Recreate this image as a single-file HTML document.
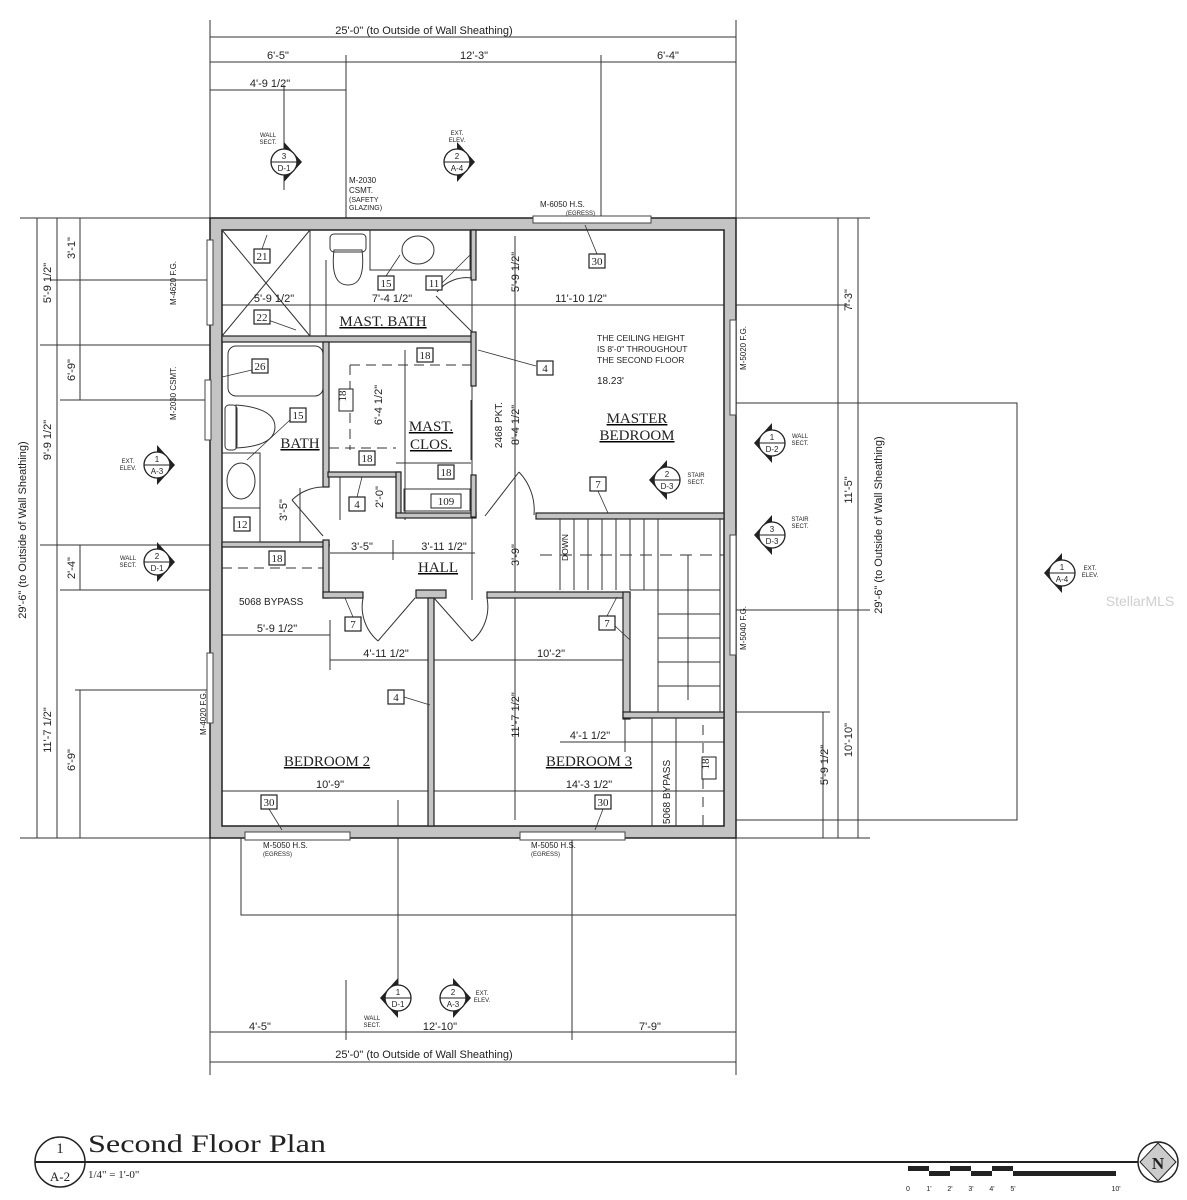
<!DOCTYPE html>
<html><head><meta charset="utf-8"><style>
html,body{margin:0;padding:0;background:#fff}
svg{display:block}
text{font-family:"Liberation Sans",sans-serif;fill:#222}
.s{font-family:"Liberation Serif",serif}
</style></head><body>
<svg width="1187" height="1200" viewBox="0 0 1187 1200" xmlns="http://www.w3.org/2000/svg">
<defs>
<g id="tag"><rect x="-8" y="-7" width="16" height="14" fill="#fff" stroke="#222" stroke-width="1.2"/></g>
<g id="mk"><circle r="13" fill="#fff" stroke="#222" stroke-width="1.3"/><line x1="-13" y1="0" x2="13" y2="0" stroke="#222"/></g>
<path id="tr" d="M0 -20 L18 0 L0 20Z" fill="#222"/>
<path id="tl" d="M0 -20 L-18 0 L0 20Z" fill="#222"/>
</defs>

<text x="1140" y="606" font-size="14" fill="#ccc" style="fill:#cfcfcf" text-anchor="middle">StellarMLS</text>

<g stroke="#333" stroke-width="1" fill="none">
<line x1="210" y1="37" x2="736" y2="37"/>
<line x1="210" y1="62" x2="736" y2="62"/>
<line x1="210" y1="90" x2="346" y2="90"/>
<line x1="210" y1="20" x2="210" y2="218"/>
<line x1="736" y1="20" x2="736" y2="218"/>
<line x1="346" y1="55" x2="346" y2="230"/>
<line x1="601" y1="55" x2="601" y2="220"/>
<line x1="284" y1="85" x2="284" y2="190"/>
<line x1="210" y1="1062" x2="736" y2="1062"/>
<line x1="210" y1="1032" x2="736" y2="1032"/>
<line x1="210" y1="838" x2="210" y2="1075"/>
<line x1="736" y1="838" x2="736" y2="1075"/>
<line x1="346" y1="980" x2="346" y2="1040"/>
<line x1="572" y1="838" x2="572" y2="1040"/>
<line x1="398" y1="800" x2="398" y2="990"/>
<line x1="37" y1="218" x2="37" y2="838"/>
<line x1="57" y1="218" x2="57" y2="838"/>
<line x1="80" y1="218" x2="80" y2="400"/>
<line x1="80" y1="545" x2="80" y2="590"/>
<line x1="80" y1="690" x2="80" y2="838"/>
<line x1="20" y1="218" x2="210" y2="218"/>
<line x1="20" y1="838" x2="210" y2="838"/>
<line x1="50" y1="280" x2="222" y2="280"/>
<line x1="40" y1="345" x2="222" y2="345"/>
<line x1="40" y1="545" x2="330" y2="545"/>
<line x1="60" y1="400" x2="222" y2="400"/>
<line x1="60" y1="590" x2="222" y2="590"/>
<line x1="75" y1="690" x2="222" y2="690"/>
<line x1="858" y1="218" x2="858" y2="838"/>
<line x1="838" y1="218" x2="838" y2="838"/>
<line x1="823" y1="712" x2="823" y2="838"/>
<line x1="736" y1="218" x2="870" y2="218"/>
<line x1="736" y1="838" x2="870" y2="838"/>
<line x1="724" y1="305" x2="850" y2="305"/>
<line x1="724" y1="610" x2="870" y2="610"/>
<line x1="724" y1="712" x2="830" y2="712"/>
<rect x="736" y="403" width="281" height="417"/>
<rect x="241" y="838" width="495" height="77"/>
<line x1="222" y1="305" x2="724" y2="305"/>
<line x1="326" y1="260" x2="326" y2="345"/>
<line x1="472" y1="240" x2="472" y2="600"/>
<line x1="515" y1="236" x2="515" y2="820"/>
<line x1="340" y1="472" x2="340" y2="520"/>
<line x1="300" y1="488" x2="300" y2="545"/>
<line x1="330" y1="553" x2="475" y2="553"/>
<line x1="393" y1="540" x2="393" y2="560"/>
<line x1="222" y1="635" x2="330" y2="635"/>
<line x1="330" y1="620" x2="330" y2="670"/>
<line x1="330" y1="660" x2="630" y2="660"/>
<line x1="222" y1="791" x2="724" y2="791"/>
<line x1="560" y1="742" x2="724" y2="742"/>
<line x1="625" y1="718" x2="625" y2="752"/>
<line x1="405" y1="350" x2="405" y2="520"/>
</g>

<path d="M210 218H736V838H210Z M222 230V826H724V230Z" fill="#c4c4c4" fill-rule="evenodd" stroke="#222" stroke-width="1.5"/>
<g fill="#fff" stroke="#444" stroke-width="1">
<rect x="533" y="216" width="118" height="7"/>
<rect x="245" y="832" width="105" height="8"/>
<rect x="520" y="832" width="105" height="8"/>
<rect x="207" y="240" width="6" height="85"/>
<rect x="205" y="380" width="6" height="60"/>
<rect x="207" y="653" width="6" height="70"/>
<rect x="730" y="320" width="6" height="95"/>
<rect x="730" y="535" width="6" height="120"/>
</g>

<g fill="#c4c4c4" stroke="#222" stroke-width="1.2">
<rect x="222" y="336" width="253" height="6"/>
<rect x="471" y="230" width="5" height="50"/>
<rect x="471" y="332" width="5" height="54"/>
<rect x="323" y="342" width="6" height="145"/>
<rect x="328" y="472" width="72" height="5"/>
<rect x="396" y="472" width="5" height="45"/>
<rect x="396" y="513" width="80" height="5"/>
<rect x="471" y="475" width="5" height="42"/>
<rect x="222" y="542" width="107" height="5"/>
<rect x="323" y="540" width="6" height="58"/>
<rect x="323" y="592" width="40" height="6"/>
<rect x="416" y="590" width="30" height="8"/>
<rect x="487" y="592" width="143" height="6"/>
<rect x="623" y="592" width="7" height="127"/>
<rect x="623" y="712" width="101" height="6"/>
<rect x="536" y="513" width="188" height="6"/>
<rect x="428" y="598" width="6" height="228"/>
</g>
<g stroke="#333" stroke-width="1" fill="none">
<line x1="560" y1="519" x2="560" y2="590"/>
<line x1="574" y1="519" x2="574" y2="590"/>
<line x1="588" y1="519" x2="588" y2="590"/>
<line x1="602" y1="519" x2="602" y2="590"/>
<line x1="616" y1="519" x2="616" y2="590"/>
<line x1="630" y1="519" x2="630" y2="590"/>
<line x1="644" y1="519" x2="644" y2="590"/>
<line x1="658" y1="519" x2="658" y2="712"/>
<line x1="720" y1="519" x2="720" y2="712"/>
<line x1="630" y1="590" x2="720" y2="590"/>
<line x1="658" y1="614" x2="720" y2="614"/>
<line x1="658" y1="638" x2="720" y2="638"/>
<line x1="658" y1="662" x2="720" y2="662"/>
<line x1="658" y1="686" x2="720" y2="686"/>
<line x1="540" y1="555" x2="724" y2="555" stroke-dasharray="12,8"/>
<line x1="688" y1="555" x2="688" y2="700"/>
<line x1="652" y1="718" x2="652" y2="826"/>
<line x1="676" y1="718" x2="676" y2="826"/>
<line x1="703" y1="725" x2="703" y2="826" stroke-dasharray="10,8"/>
<line x1="436" y1="296" x2="472" y2="332"/>
<path d="M437 292 A38 38 0 0 1 472 278"/>
<line x1="485" y1="516" x2="519" y2="472"/>
<path d="M519 472 A55 55 0 0 1 534 515"/>
<line x1="292" y1="500" x2="323" y2="536"/>
<path d="M292 500 A45 45 0 0 1 323 487"/>
<line x1="415" y1="598" x2="378" y2="641"/>
<path d="M378 641 A45 45 0 0 1 363 598"/>
<line x1="434" y1="598" x2="472" y2="641"/>
<path d="M472 641 A45 45 0 0 0 487 598"/>
<line x1="222" y1="230" x2="310" y2="336"/>
<line x1="310" y1="230" x2="222" y2="336"/>
<line x1="310" y1="230" x2="310" y2="336"/>
<line x1="222" y1="568" x2="323" y2="568" stroke-dasharray="10,6"/>
<line x1="350" y1="365" x2="471" y2="365" stroke-dasharray="10,6"/>
<line x1="350" y1="365" x2="350" y2="450" stroke-dasharray="10,6"/>
<line x1="329" y1="448" x2="396" y2="448" stroke-dasharray="10,6"/>
<line x1="396" y1="463" x2="471" y2="463"/>
<rect x="404" y="489" width="66" height="22"/>
<line x1="471" y1="400" x2="471" y2="460"/>
<rect x="330" y="234" width="36" height="18" rx="4"/>
<path d="M334 250 Q330 285 348 285 Q366 285 362 250 Z"/>
<rect x="370" y="230" width="100" height="40"/>
<ellipse cx="418" cy="250" rx="16" ry="14"/>
<rect x="228" y="346" width="95" height="50" rx="8"/>
<rect x="225" y="405" width="12" height="45" rx="4"/>
<path d="M236 405 Q275 408 275 427 Q275 446 236 448 Z"/>
<rect x="222" y="453" width="38" height="55"/>
<ellipse cx="241" cy="481" rx="14" ry="18"/>
<rect x="222" y="508" width="38" height="34"/>
</g>
<g stroke="#333" stroke-width="0.8">
<line x1="262" y1="249" x2="267" y2="235"/>
<line x1="268" y1="320" x2="296" y2="330"/>
<line x1="386" y1="276" x2="400" y2="255"/>
<line x1="442" y1="283" x2="470" y2="255"/>
<line x1="597" y1="254" x2="585" y2="225"/>
<line x1="252" y1="370" x2="222" y2="377"/>
<line x1="290" y1="420" x2="247" y2="460"/>
<line x1="536" y1="366" x2="478" y2="350"/>
<line x1="598" y1="491" x2="608" y2="513"/>
<line x1="357" y1="497" x2="362" y2="477"/>
<line x1="353" y1="617" x2="345" y2="598"/>
<line x1="607" y1="616" x2="617" y2="597"/>
<line x1="614" y1="625" x2="630" y2="640"/>
<line x1="404" y1="697" x2="430" y2="705"/>
<line x1="269" y1="809" x2="282" y2="830"/>
<line x1="603" y1="809" x2="595" y2="830"/>
</g>

<g font-size="11" text-anchor="middle" class="s">
<use href="#tag" x="262" y="256"/><text x="262" y="260" class="s">21</text>
<use href="#tag" x="262" y="317"/><text x="262" y="321" class="s">22</text>
<use href="#tag" x="386" y="283"/><text x="386" y="287" class="s">15</text>
<use href="#tag" x="434" y="283"/><text x="434" y="287" class="s">11</text>
<use href="#tag" x="597" y="261"/><text x="597" y="265" class="s">30</text>
<use href="#tag" x="260" y="366"/><text x="260" y="370" class="s">26</text>
<use href="#tag" x="298" y="415"/><text x="298" y="419" class="s">15</text>
<use href="#tag" x="425" y="355"/><text x="425" y="359" class="s">18</text>
<use href="#tag" x="545" y="368"/><text x="545" y="372" class="s">4</text>
<rect x="339" y="389" width="14" height="22" fill="#fff" stroke="#222"/><text x="350" y="400" transform="rotate(-90 346 400)" class="s">18</text>
<use href="#tag" x="367" y="458"/><text x="367" y="462" class="s">18</text>
<use href="#tag" x="446" y="472"/><text x="446" y="476" class="s">18</text>
<use href="#tag" x="357" y="504"/><text x="357" y="508" class="s">4</text>
<rect x="431" y="494" width="30" height="14" fill="#fff" stroke="#222"/><text x="446" y="505" class="s">109</text>
<use href="#tag" x="598" y="484"/><text x="598" y="488" class="s">7</text>
<use href="#tag" x="242" y="524"/><text x="242" y="528" class="s">12</text>
<use href="#tag" x="277" y="558"/><text x="277" y="562" class="s">18</text>
<use href="#tag" x="353" y="624"/><text x="353" y="628" class="s">7</text>
<use href="#tag" x="607" y="623"/><text x="607" y="627" class="s">7</text>
<use href="#tag" x="396" y="697"/><text x="396" y="701" class="s">4</text>
<rect x="702" y="757" width="14" height="22" fill="#fff" stroke="#222"/><text x="713" y="768" transform="rotate(-90 709 768)" class="s">18</text>
<use href="#tag" x="269" y="802"/><text x="269" y="806" class="s">30</text>
<use href="#tag" x="603" y="802"/><text x="603" y="806" class="s">30</text>
</g>

<g class="s" font-size="15" text-anchor="middle" text-decoration="underline">
<text x="383" y="326" class="s">MAST. BATH</text>
<text x="637" y="423" class="s" text-decoration="none">MASTER</text>
<text x="637" y="440" class="s">BEDROOM</text>
<text x="431" y="431" class="s" text-decoration="none">MAST.</text>
<text x="431" y="449" class="s">CLOS.</text>
<text x="300" y="448" class="s">BATH</text>
<text x="438" y="572" class="s">HALL</text>
<text x="327" y="766" class="s">BEDROOM 2</text>
<text x="589" y="766" class="s">BEDROOM 3</text>
</g>
<g font-size="8.5" fill="#444">
<text x="597" y="341">THE CEILING HEIGHT</text>
<text x="597" y="352">IS 8'-0" THROUGHOUT</text>
<text x="597" y="363">THE SECOND FLOOR</text>
<text x="597" y="384" font-size="10">18.23'</text>
<text x="549" y="568" transform="rotate(-90 555 555)">DOWN</text>
<text x="239" y="605" font-size="10">5068 BYPASS</text>
</g>

<g font-size="11" text-anchor="middle">
<text x="424" y="34">25'-0" (to Outside of Wall Sheathing)</text>
<text x="278" y="59">6'-5"</text>
<text x="474" y="59">12'-3"</text>
<text x="668" y="59">6'-4"</text>
<text x="270" y="87">4'-9 1/2"</text>
<text x="424" y="1058">25'-0" (to Outside of Wall Sheathing)</text>
<text x="260" y="1030">4'-5"</text>
<text x="440" y="1030">12'-10"</text>
<text x="650" y="1030">7'-9"</text>
<text x="274" y="302">5'-9 1/2"</text>
<text x="392" y="302">7'-4 1/2"</text>
<text x="581" y="302">11'-10 1/2"</text>
<text x="362" y="550">3'-5"</text>
<text x="444" y="550">3'-11 1/2"</text>
<text x="277" y="632">5'-9 1/2"</text>
<text x="386" y="657">4'-11 1/2"</text>
<text x="551" y="657">10'-2"</text>
<text x="330" y="788">10'-9"</text>
<text x="589" y="788">14'-3 1/2"</text>
<text x="590" y="739">4'-1 1/2"</text>
<text transform="translate(26 530) rotate(-90)">29'-6" (to Outside of Wall Sheathing)</text>
<text transform="translate(882 525) rotate(-90)">29'-6" (to Outside of Wall Sheathing)</text>
<text transform="translate(51 283) rotate(-90)">5'-9 1/2"</text>
<text transform="translate(51 440) rotate(-90)">9'-9 1/2"</text>
<text transform="translate(51 730) rotate(-90)">11'-7 1/2"</text>
<text transform="translate(75 248) rotate(-90)">3'-1"</text>
<text transform="translate(75 370) rotate(-90)">6'-9"</text>
<text transform="translate(75 568) rotate(-90)">2'-4"</text>
<text transform="translate(75 760) rotate(-90)">6'-9"</text>
<text transform="translate(852 300) rotate(-90)">7'-3"</text>
<text transform="translate(852 490) rotate(-90)">11'-5"</text>
<text transform="translate(852 740) rotate(-90)">10'-10"</text>
<text transform="translate(828 765) rotate(-90)">5'-9 1/2"</text>
<text transform="translate(519 272) rotate(-90)">5'-9 1/2"</text>
<text transform="translate(519 425) rotate(-90)">8'-4 1/2"</text>
<text transform="translate(519 555) rotate(-90)">3'-9"</text>
<text transform="translate(519 715) rotate(-90)">11'-7 1/2"</text>
<text transform="translate(382 405) rotate(-90)">6'-4 1/2"</text>
<text transform="translate(383 497) rotate(-90)">2'-0"</text>
<text transform="translate(287 510) rotate(-90)">3'-5"</text>
<text transform="translate(502 425) rotate(-90)" font-size="10">2468 PKT.</text>
<text transform="translate(670 792) rotate(-90)" font-size="10">5068 BYPASS</text>
</g>
<g font-size="8" fill="#444">
<text x="349" y="183">M-2030</text><text x="349" y="193">CSMT.</text><text x="349" y="202" font-size="7">(SAFETY</text><text x="349" y="210" font-size="7">GLAZING)</text>
<text x="540" y="207">M-6050 H.S.</text><text x="566" y="215" font-size="6">(EGRESS)</text>
<text x="263" y="848">M-5050 H.S.</text><text x="263" y="856" font-size="6">(EGRESS)</text>
<text x="531" y="848">M-5050 H.S.</text><text x="531" y="856" font-size="6">(EGRESS)</text>
<text transform="translate(176 305) rotate(-90)">M-4620 F.G.</text>
<text transform="translate(176 420) rotate(-90)">M-2030 CSMT.</text>
<text transform="translate(206 735) rotate(-90)">M-4020 F.G.</text>
<text transform="translate(746 370) rotate(-90)">M-5020 F.G.</text>
<text transform="translate(746 650) rotate(-90)">M-5040 F.G.</text>
</g>

<g font-size="8" text-anchor="middle">
<g transform="translate(284 162)"><use href="#tr"/><use href="#mk"/><text y="-3">3</text><text y="9">D-1</text></g>
<text x="268" y="137" font-size="6">WALL</text><text x="268" y="144" font-size="6">SECT.</text>
<g transform="translate(457 162)"><use href="#tr"/><use href="#mk"/><text y="-3">2</text><text y="9">A-4</text></g>
<text x="457" y="135" font-size="6">EXT.</text><text x="457" y="142" font-size="6">ELEV.</text>
<g transform="translate(157 465)"><use href="#tr"/><use href="#mk"/><text y="-3">1</text><text y="9">A-3</text></g>
<text x="128" y="463" font-size="6">EXT.</text><text x="128" y="470" font-size="6">ELEV.</text>
<g transform="translate(157 562)"><use href="#tr"/><use href="#mk"/><text y="-3">2</text><text y="9">D-1</text></g>
<text x="128" y="560" font-size="6">WALL</text><text x="128" y="567" font-size="6">SECT.</text>
<g transform="translate(772 443)"><use href="#tl"/><use href="#mk"/><text y="-3">1</text><text y="9">D-2</text></g>
<text x="800" y="438" font-size="6">WALL</text><text x="800" y="445" font-size="6">SECT.</text>
<g transform="translate(667 480)"><use href="#tl"/><use href="#mk"/><text y="-3">2</text><text y="9">D-3</text></g>
<text x="696" y="477" font-size="6">STAIR</text><text x="696" y="484" font-size="6">SECT.</text>
<g transform="translate(772 535)"><use href="#tl"/><use href="#mk"/><text y="-3">3</text><text y="9">D-3</text></g>
<text x="800" y="521" font-size="6">STAIR</text><text x="800" y="528" font-size="6">SECT.</text>
<g transform="translate(1062 573)"><use href="#tl"/><use href="#mk"/><text y="-3">1</text><text y="9">A-4</text></g>
<text x="1090" y="570" font-size="6">EXT.</text><text x="1090" y="577" font-size="6">ELEV.</text>
<g transform="translate(398 998)"><use href="#tl"/><use href="#mk"/><text y="-3">1</text><text y="9">D-1</text></g>
<text x="372" y="1020" font-size="6">WALL</text><text x="372" y="1027" font-size="6">SECT.</text>
<g transform="translate(453 998)"><use href="#tr"/><use href="#mk"/><text y="-3">2</text><text y="9">A-3</text></g>
<text x="482" y="995" font-size="6">EXT.</text><text x="482" y="1002" font-size="6">ELEV.</text>
</g>

<circle cx="60" cy="1162" r="25" fill="#fff" stroke="#222" stroke-width="1.5"/>
<line x1="35" y1="1162" x2="1140" y2="1162" stroke="#222" stroke-width="2"/>
<text x="60" y="1153" font-size="15" text-anchor="middle" class="s">1</text>
<text x="60" y="1181" font-size="13" text-anchor="middle" class="s">A-2</text>
<text x="88" y="1152" font-size="25" class="s" textLength="238" lengthAdjust="spacingAndGlyphs">Second Floor Plan</text>
<text x="88" y="1178" font-size="11" class="s">1/4" = 1'-0"</text>
<g fill="#222">
<rect x="908" y="1166" width="21" height="5"/><rect x="929" y="1171" width="21" height="5"/>
<rect x="950" y="1166" width="21" height="5"/><rect x="971" y="1171" width="21" height="5"/>
<rect x="992" y="1166" width="21" height="5"/><rect x="1013" y="1171" width="103" height="5"/>
</g>
<g font-size="7" text-anchor="middle" class="s"><text x="908" y="1191">0</text><text x="929" y="1191">1'</text><text x="950" y="1191">2'</text><text x="971" y="1191">3'</text><text x="992" y="1191">4'</text><text x="1013" y="1191">5'</text><text x="1116" y="1191">10'</text></g>
<circle cx="1158" cy="1162" r="20" fill="#fff" stroke="#222" stroke-width="1.5"/>
<path d="M1140 1162 L1158 1143 L1176 1162 L1158 1181Z" fill="#ccc" stroke="#222"/>
<text x="1158" y="1169" font-size="17" font-weight="bold" text-anchor="middle" class="s">N</text>
</svg>
</body></html>
